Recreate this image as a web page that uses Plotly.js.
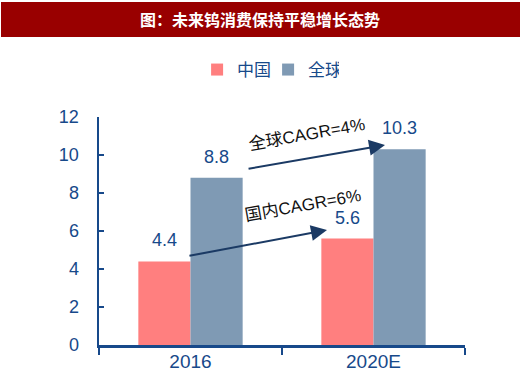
<!DOCTYPE html>
<html>
<head>
<meta charset="utf-8">
<script src="https://cdn.plot.ly/plotly-3.0.1.min.js"></script>
<style>html,body{margin:0;padding:0;background:#fff;}#chart{width:520px;height:387px;}</style>
</head>
<body>
<div id="chart"></div>
<script>
const categories = ['2016', '2020E'];
const chinaValues = [4.4, 5.6];
const globalValues = [8.8, 10.3];
const seriesNames = ['中国', '全球'];
const yTicks = [0, 2, 4, 6, 8, 10, 12];
const titleText = '图：未来钨消费保持平稳增长态势';
const cagrLabels = ['全球CAGR=4%', '国内CAGR=6%'];

const FONT = 'Liberation Sans, Arial, Noto Sans CJK SC, sans-serif';
const CJK = 'Noto Sans CJK SC, sans-serif';
const BLUE = '#17498A';
const NAVY = '#1B3A64';
const PINK = '#FF7F7F';
const STEEL = '#7F9AB4';

const traces = [
  {type: 'bar', name: seriesNames[0], x: categories, y: chinaValues, marker: {color: PINK}, hoverinfo: 'none'},
  {type: 'bar', name: seriesNames[1], x: categories, y: globalValues, marker: {color: STEEL}, hoverinfo: 'none'}
];

const annotations = [];
// value labels (x given as category index)
categories.forEach((c, i) => {
  annotations.push({x: i, y: chinaValues[i], xref: 'x', yref: 'y', text: String(chinaValues[i]),
    showarrow: false, xshift: -26, yshift: 21, xanchor: 'center', yanchor: 'middle',
    font: {family: FONT, size: 18, color: BLUE}});
  annotations.push({x: i, y: globalValues[i], xref: 'x', yref: 'y', text: String(globalValues[i]),
    showarrow: false, xshift: 26, yshift: 21, xanchor: 'center', yanchor: 'middle',
    font: {family: FONT, size: 18, color: BLUE}});
});
// CAGR arrows (from the 2016 values towards the 2020E values)
annotations.push({xref: 'x', yref: 'y', axref: 'x', ayref: 'y', x: 1.063, y: 10.53, ax: 0.309, ay: 9.26,
  text: '', showarrow: true, arrowhead: 2, arrowsize: 1.6, arrowwidth: 2, arrowcolor: NAVY, standoff: 0});
annotations.push({xref: 'x', yref: 'y', axref: 'x', ayref: 'y', x: 0.746, y: 6.05, ax: -0.014, ay: 4.68,
  text: '', showarrow: true, arrowhead: 2, arrowsize: 1.6, arrowwidth: 2, arrowcolor: NAVY, standoff: 0});
annotations.push({xref: 'paper', yref: 'paper', x: (307 - 99) / 366, y: (345 - 134) / 228,
  xanchor: 'center', yanchor: 'middle',
  text: cagrLabels[0], showarrow: false, textangle: -10,
  font: {family: FONT, size: 17, color: '#111'}});
annotations.push({xref: 'paper', yref: 'paper', x: (303 - 99) / 366, y: (345 - 205) / 228,
  xanchor: 'center', yanchor: 'middle',
  text: cagrLabels[1], showarrow: false, textangle: -10,
  font: {family: FONT, size: 17, color: '#111'}});

const layout = {
  width: 520, height: 387,
  margin: {l: 99, r: 55, t: 117, b: 42},
  paper_bgcolor: '#fff', plot_bgcolor: '#fff',
  barmode: 'group', bargap: 0.43, bargroupgap: 0,
  title: {text: titleText, x: 0.5, xanchor: 'center', xref: 'container', y: 1 - 20 / 387, yanchor: 'middle', yref: 'container',
    font: {family: CJK, size: 16, color: '#fff', weight: 'bold'}},
  shapes: [{type: 'rect', xref: 'paper', yref: 'paper', x0: (1 - 99) / 366, x1: (520 - 99) / 366,
    y0: (345 - 37) / 228, y1: (345 - 2) / 228, fillcolor: '#990000', line: {width: 0}, layer: 'below'}],
  showlegend: true,
  legend: {orientation: 'h', x: 0.462, xanchor: 'center', y: (345 - 70) / 228, yanchor: 'middle',
    font: {family: CJK, size: 17, color: BLUE}, itemwidth: 30, entrywidth: 26, entrywidthmode: 'pixels',
    traceorder: 'normal', bgcolor: 'rgba(0,0,0,0)'},
  xaxis: {type: 'category', range: [-0.5, 1.5], showline: true, linecolor: BLUE, linewidth: 3,
    ticks: 'outside', tickson: 'boundaries', ticklen: 7, tickwidth: 2, tickcolor: BLUE, ticklabelstandoff: -3,
    showgrid: false, zeroline: false, fixedrange: true,
    tickfont: {family: FONT, size: 19, color: BLUE}},
  yaxis: {range: [0, 12], tickvals: yTicks, showline: true, linecolor: BLUE, linewidth: 2.5,
    ticks: 'inside', ticklen: 5, tickwidth: 2, tickcolor: BLUE, ticklabelstandoff: 14,
    showgrid: false, zeroline: false, fixedrange: true,
    tickfont: {family: FONT, size: 18, color: BLUE}},
  annotations: annotations
};

Plotly.newPlot('chart', traces, layout, {displayModeBar: false, staticPlot: true});
</script>
</body>
</html>
